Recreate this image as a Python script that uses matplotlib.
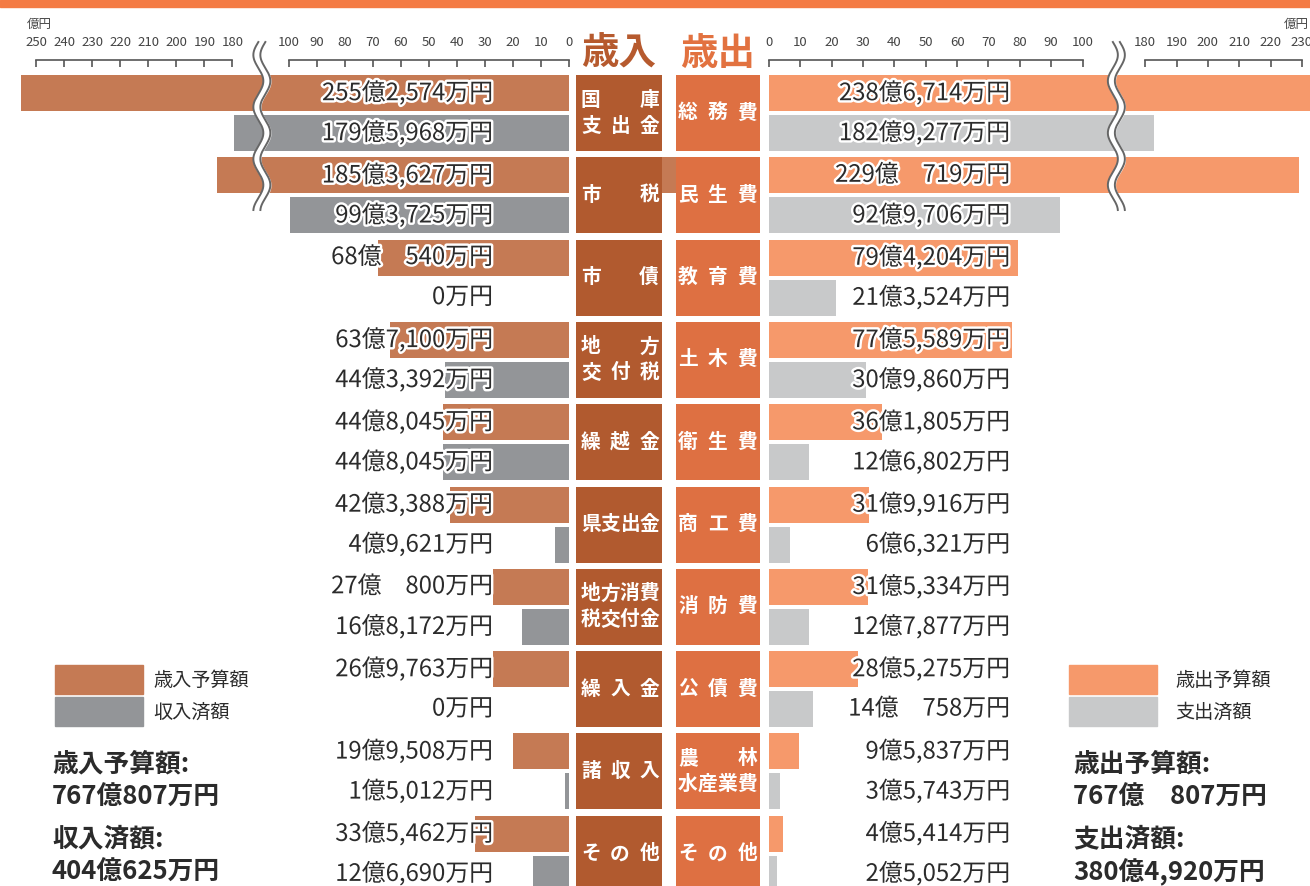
import matplotlib
matplotlib.use("Agg")
import matplotlib.pyplot as plt
import matplotlib.patheffects as pe
from matplotlib.patches import Rectangle
import numpy as np

plt.rcParams['font.family'] = ['Noto Sans CJK JP', 'DejaVu Sans']

# ---- data (億円) ----
rev_names = ["国庫\n支出金", "市税", "市債", "地方\n交付税", "繰越金", "県支出金",
             "地方消費\n税交付金", "繰入金", "諸収入", "その他"]
exp_names = ["総務費", "民生費", "教育費", "土木費", "衛生費", "商工費",
             "消防費", "公債費", "農林\n水産業費", "その他"]

rev_budget = [255.2574, 185.3627, 68.0540, 63.7100, 44.8045, 42.3388, 27.0800, 26.9763, 19.9508, 33.5462]
rev_actual = [179.5968, 99.3725, 0.0, 44.3392, 44.8045, 4.9621, 16.8172, 0.0, 1.5012, 12.6690]
exp_budget = [238.6714, 229.0719, 79.4204, 77.5589, 36.1805, 31.9916, 31.5334, 28.5275, 9.5837, 4.5414]
exp_actual = [182.9277, 92.9706, 21.3524, 30.9860, 12.6802, 6.6321, 12.7877, 14.0758, 3.5743, 2.5052]

rev_budget_lbl = ["255億2,574万円", "185億3,627万円", "68億　540万円", "63億7,100万円", "44億8,045万円",
                  "42億3,388万円", "27億　800万円", "26億9,763万円", "19億9,508万円", "33億5,462万円"]
rev_actual_lbl = ["179億5,968万円", "99億3,725万円", "0万円", "44億3,392万円", "44億8,045万円",
                  "4億9,621万円", "16億8,172万円", "0万円", "1億5,012万円", "12億6,690万円"]
exp_budget_lbl = ["238億6,714万円", "229億　719万円", "79億4,204万円", "77億5,589万円", "36億1,805万円",
                  "31億9,916万円", "31億5,334万円", "28億5,275万円", "9億5,837万円", "4億5,414万円"]
exp_actual_lbl = ["182億9,277万円", "92億9,706万円", "21億3,524万円", "30億9,860万円", "12億6,802万円",
                  "6億6,321万円", "12億7,877万円", "14億　758万円", "3億5,743万円", "2億5,052万円"]

rev_ticks = [0, 10, 20, 30, 40, 50, 60, 70, 80, 90, 100, 180, 190, 200, 210, 220, 230, 240, 250]
exp_ticks = [0, 10, 20, 30, 40, 50, 60, 70, 80, 90, 100, 180, 190, 200, 210, 220, 230]

# ---- colours ----
C_RB, C_RA = "#C57A54", "#939598"
C_EB, C_EA = "#F6996B", "#C8C9CA"
C_RBOX, C_EBOX = "#B15A2F", "#DE7042"
C_TXT = "#2b2b2b"

W, H = 1310, 886
P = 82.3          # px per category row
C0 = 113          # px of first row centre
PXL, PXR = 2.805, 3.135   # px per 億 on each side


def comp(v):
    # broken scale: 100..180 squeezed out
    v = np.asarray(v, dtype=float)
    return np.where(v > 100, v - 60, v)


def py(px):
    return (px - C0) / P


fig = plt.figure(figsize=(W / 100, H / 100), dpi=100)
axL = fig.add_axes([0, 0, 569 / W, 1])
axM = fig.add_axes([569 / W, 0, 200 / W, 1])
axR = fig.add_axes([769 / W, 0, 541 / W, 1])
for ax in (axL, axM, axR):
    ax.set_ylim(py(H), py(0))
    ax.axis('off')
axL.set_xlim(569 / PXL, 0)
axR.set_xlim(0, 541 / PXR)
axM.set_xlim(0, 200)

y = np.arange(len(rev_names))
off, bh = 20 / P, 36 / P
stroke = [pe.withStroke(linewidth=3.5, foreground='white')]

axL.barh(y - off, comp(rev_budget), height=bh, color=C_RB)
axL.barh(y + off, comp(rev_actual), height=bh, color=C_RA)
axR.barh(y - off, comp(exp_budget), height=bh, color=C_EB)
axR.barh(y + off, comp(exp_actual), height=bh, color=C_EA)

FS = 17.2
for i in range(len(y)):
    axL.text(27.1, y[i] - off, rev_budget_lbl[i], ha='right', va='center', fontsize=FS,
             color=C_TXT, path_effects=stroke, zorder=6)
    axL.text(27.1, y[i] + off, rev_actual_lbl[i], ha='right', va='center', fontsize=FS,
             color=C_TXT, path_effects=stroke, zorder=6)
    axR.text(76.9, y[i] - off, exp_budget_lbl[i], ha='right', va='center', fontsize=FS,
             color=C_TXT, path_effects=stroke, zorder=6)
    axR.text(76.9, y[i] + off, exp_actual_lbl[i], ha='right', va='center', fontsize=FS,
             color=C_TXT, path_effects=stroke, zorder=6)

# ---- category boxes ----
axM.barh(1 - off, 14, left=93, height=bh, color=C_RB)
axM.barh(y, 86, left=7, height=76 / P, color=C_RBOX)
axM.barh(y, 84, left=107, height=76 / P, color=C_EBOX)


def box_text(ax, x0, x1, yc, name, fs=14.2):
    em = fs * 100 / 72
    lines = name.split("\n")
    for j, line in enumerate(lines):
        yy = yc + (j - (len(lines) - 1) / 2) * (26 / P)
        xs = np.linspace(x0 + em / 2, x1 - em / 2, len(line)) if len(line) > 1 else [(x0 + x1) / 2]
        for ch, xx in zip(line, xs):
            ax.text(xx, yy, ch, ha='center', va='center', color='white',
                    fontsize=fs, fontweight='bold')


for i in range(len(y)):
    box_text(axM, 12, 90, y[i], rev_names[i])
    box_text(axM, 109, 188, y[i], exp_names[i])


# ---- scale at the top ----
def draw_scale(ax, ticks):
    yl = py(60)
    tl = 7 / P
    lo = [t for t in ticks if t <= 100]
    hi = [t for t in ticks if t > 100]
    for seg in (lo, hi):
        ax.plot(comp([seg[0], seg[-1]]), [yl, yl], color="#555555", lw=1.2, clip_on=False)
    ax.vlines(comp(ticks), yl, yl + tl, color="#555555", lw=1.2, clip_on=False)
    for t in ticks:
        ax.text(comp(t), py(42), str(t), ha='center', va='center', fontsize=9.5,
                color="#444444", clip_on=False)


draw_scale(axL, rev_ticks)
draw_scale(axR, exp_ticks)


def draw_break(ax, xc, pxu):
    yy = np.linspace(42, 210, 200)
    wav = 5 * np.sin(2 * np.pi * (yy - 42) / 52) / pxu
    x1 = xc + wav - 3.5 / pxu
    x2 = xc + wav + 3.5 / pxu
    ax.fill_betweenx(py(yy), x1, x2, color='white', zorder=7, clip_on=False)
    ax.plot(x1, py(yy), color="#666666", lw=1.4, zorder=8, clip_on=False)
    ax.plot(x2, py(yy), color="#666666", lw=1.4, zorder=8, clip_on=False)


draw_break(axL, 109.5, PXL)
draw_break(axR, 110.8, PXR)

# ---- overlay: band, titles, legends, totals ----
ov = fig.add_axes([0, 0, 1, 1])
ov.set_xlim(0, W)
ov.set_ylim(H, 0)
ov.axis('off')
ov.add_patch(Rectangle((0, 0), W, 7, color="#F47B44"))
ov.text(619, 53, "歳入", ha='center', va='center', fontsize=27, fontweight='bold', color="#B65A2E")
ov.text(718, 53, "歳出", ha='center', va='center', fontsize=27, fontweight='bold', color="#E27240")
ov.text(27, 24, "億円", ha='left', va='center', fontsize=9, color="#444444")
ov.text(1309, 24, "億円", ha='right', va='center', fontsize=9, color="#444444")

legend_rows = [("歳入予算額", C_RB, 55, 153), ("収入済額", C_RA, 55, 153),
               ("歳出予算額", C_EB, 1069, 1175), ("支出済額", C_EA, 1069, 1175)]
for k, (lbl, col, xs, xt) in enumerate(legend_rows):
    yt = 665 + (k % 2) * 32
    ov.add_patch(Rectangle((xs, yt), 88, 28.5, color=col))
    ov.text(xt, yt + 15, lbl, ha='left', va='center', fontsize=13.8, color=C_TXT)

totals = [(52, ["歳入予算額:", "767億807万円", "収入済額:", "404億625万円"]),
          (1073, ["歳出予算額:", "767億　807万円", "支出済額:", "380億4,920万円"])]
for xs, lines in totals:
    for yt, s in zip([764, 797, 839, 872], lines):
        ov.text(xs, yt, s, ha='left', va='center', fontsize=18.5, fontweight='bold', color=C_TXT)

fig.savefig("out.png", dpi=100)
